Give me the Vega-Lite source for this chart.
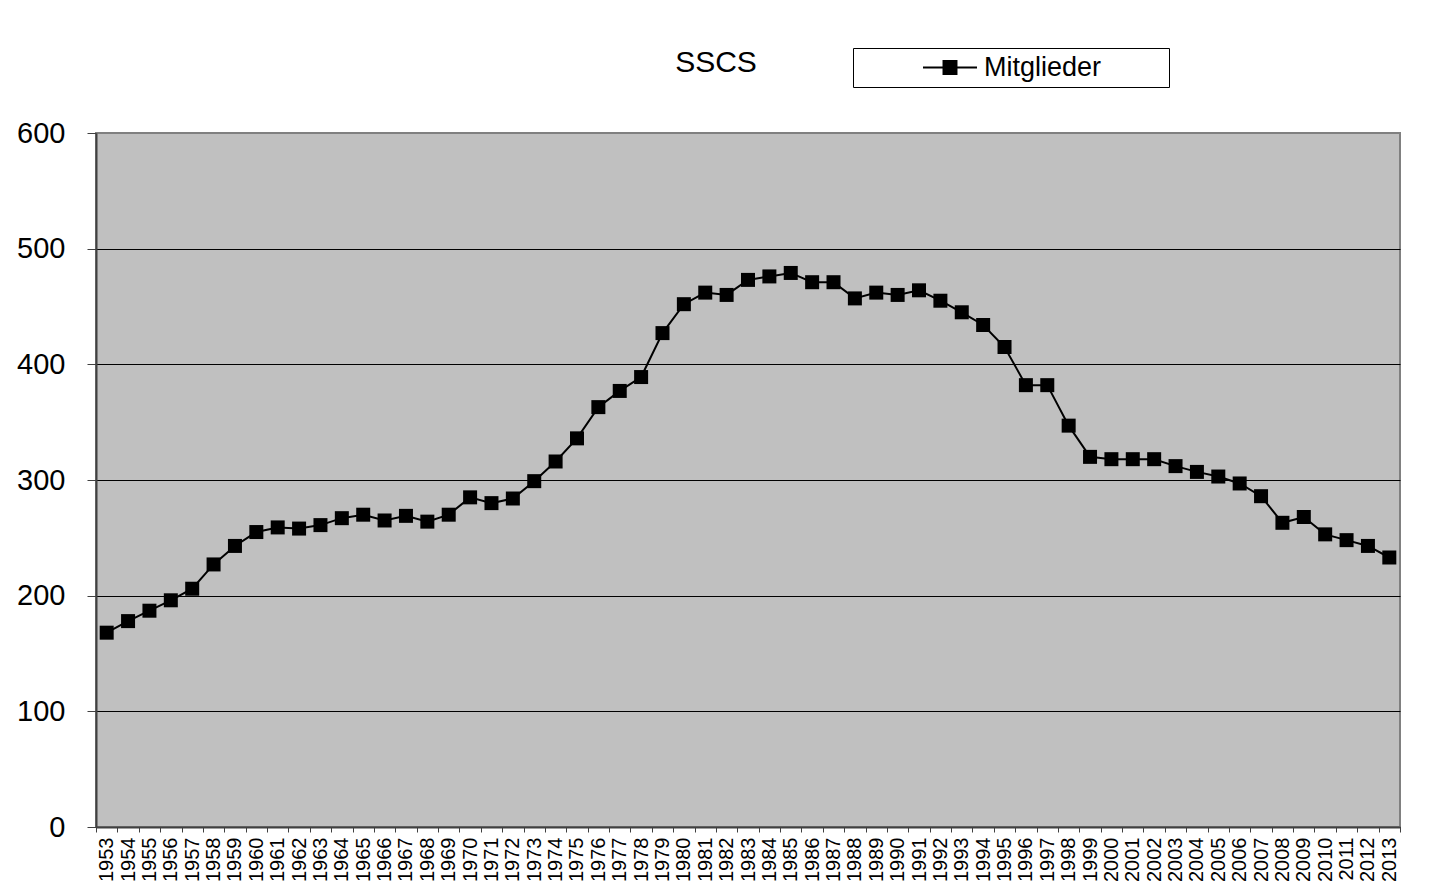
{
  "$schema": "https://vega.github.io/schema/vega-lite/v6.json",
  "autosize": "none",
  "width": 1304,
  "height": 694,
  "padding": {"left": 96, "top": 133, "right": 40, "bottom": 67},
  "background": "white",
  "title": {
    "text": "SSCS",
    "font": "Liberation Sans",
    "fontSize": 30,
    "fontWeight": "normal",
    "color": "black",
    "anchor": "middle",
    "frame": "group",
    "baseline": "alphabetic",
    "offset": -54,
    "dx": -32
  },
  "config": {
    "font": "Liberation Sans",
    "view": {"fill": "#C0C0C0", "stroke": "#808080", "strokeWidth": 2}
  },
  "data": {
    "values": [
      {"year": "1953", "value": 168, "series": "Mitglieder"},
      {"year": "1954", "value": 178, "series": "Mitglieder"},
      {"year": "1955", "value": 187, "series": "Mitglieder"},
      {"year": "1956", "value": 196, "series": "Mitglieder"},
      {"year": "1957", "value": 206, "series": "Mitglieder"},
      {"year": "1958", "value": 227, "series": "Mitglieder"},
      {"year": "1959", "value": 243, "series": "Mitglieder"},
      {"year": "1960", "value": 255, "series": "Mitglieder"},
      {"year": "1961", "value": 259, "series": "Mitglieder"},
      {"year": "1962", "value": 258, "series": "Mitglieder"},
      {"year": "1963", "value": 261, "series": "Mitglieder"},
      {"year": "1964", "value": 267, "series": "Mitglieder"},
      {"year": "1965", "value": 270, "series": "Mitglieder"},
      {"year": "1966", "value": 265, "series": "Mitglieder"},
      {"year": "1967", "value": 269, "series": "Mitglieder"},
      {"year": "1968", "value": 264, "series": "Mitglieder"},
      {"year": "1969", "value": 270, "series": "Mitglieder"},
      {"year": "1970", "value": 285, "series": "Mitglieder"},
      {"year": "1971", "value": 280, "series": "Mitglieder"},
      {"year": "1972", "value": 284, "series": "Mitglieder"},
      {"year": "1973", "value": 299, "series": "Mitglieder"},
      {"year": "1974", "value": 316, "series": "Mitglieder"},
      {"year": "1975", "value": 336, "series": "Mitglieder"},
      {"year": "1976", "value": 363, "series": "Mitglieder"},
      {"year": "1977", "value": 377, "series": "Mitglieder"},
      {"year": "1978", "value": 389, "series": "Mitglieder"},
      {"year": "1979", "value": 427, "series": "Mitglieder"},
      {"year": "1980", "value": 452, "series": "Mitglieder"},
      {"year": "1981", "value": 462, "series": "Mitglieder"},
      {"year": "1982", "value": 460, "series": "Mitglieder"},
      {"year": "1983", "value": 473, "series": "Mitglieder"},
      {"year": "1984", "value": 476, "series": "Mitglieder"},
      {"year": "1985", "value": 479, "series": "Mitglieder"},
      {"year": "1986", "value": 471, "series": "Mitglieder"},
      {"year": "1987", "value": 471, "series": "Mitglieder"},
      {"year": "1988", "value": 457, "series": "Mitglieder"},
      {"year": "1989", "value": 462, "series": "Mitglieder"},
      {"year": "1990", "value": 460, "series": "Mitglieder"},
      {"year": "1991", "value": 464, "series": "Mitglieder"},
      {"year": "1992", "value": 455, "series": "Mitglieder"},
      {"year": "1993", "value": 445, "series": "Mitglieder"},
      {"year": "1994", "value": 434, "series": "Mitglieder"},
      {"year": "1995", "value": 415, "series": "Mitglieder"},
      {"year": "1996", "value": 382, "series": "Mitglieder"},
      {"year": "1997", "value": 382, "series": "Mitglieder"},
      {"year": "1998", "value": 347, "series": "Mitglieder"},
      {"year": "1999", "value": 320, "series": "Mitglieder"},
      {"year": "2000", "value": 318, "series": "Mitglieder"},
      {"year": "2001", "value": 318, "series": "Mitglieder"},
      {"year": "2002", "value": 318, "series": "Mitglieder"},
      {"year": "2003", "value": 312, "series": "Mitglieder"},
      {"year": "2004", "value": 307, "series": "Mitglieder"},
      {"year": "2005", "value": 303, "series": "Mitglieder"},
      {"year": "2006", "value": 297, "series": "Mitglieder"},
      {"year": "2007", "value": 286, "series": "Mitglieder"},
      {"year": "2008", "value": 263, "series": "Mitglieder"},
      {"year": "2009", "value": 268, "series": "Mitglieder"},
      {"year": "2010", "value": 253, "series": "Mitglieder"},
      {"year": "2011", "value": 248, "series": "Mitglieder"},
      {"year": "2012", "value": 243, "series": "Mitglieder"},
      {"year": "2013", "value": 233, "series": "Mitglieder"}
    ]
  },
  "encoding": {
    "x": {
      "field": "year",
      "type": "ordinal",
      "bandPosition": 0.5,
      "scale": {"type": "band", "paddingInner": 0, "paddingOuter": 0},
      "axis": {
        "title": null,
        "labelAngle": 270,
        "labelFont": "Liberation Sans",
        "labelFontSize": 20,
        "labelColor": "black",
        "labelPadding": 5,
        "tickBand": "extent",
        "tickSize": 5,
        "tickColor": "#404040",
        "tickWidth": 1,
        "domainColor": "#404040",
        "domainWidth": 2,
        "grid": false
      }
    },
    "y": {
      "field": "value",
      "type": "quantitative",
      "scale": {"domain": [0, 600], "nice": false, "zero": true},
      "axis": {
        "title": null,
        "values": [0, 100, 200, 300, 400, 500, 600],
        "labelFont": "Liberation Sans",
        "labelFontSize": 29,
        "labelColor": "black",
        "labelPadding": 22,
        "tickSize": 9,
        "tickColor": "#404040",
        "tickWidth": 1,
        "domainColor": "#404040",
        "domainWidth": 2,
        "grid": true,
        "gridColor": {"condition": {"test": "datum.value === 600", "value": "#808080"}, "value": "black"},
        "gridWidth": 1,
        "gridOpacity": 1
      }
    },
    "color": {
      "field": "series",
      "type": "nominal",
      "scale": {"range": ["black"]},
      "legend": {
        "title": "\u00a0",
        "titleOrient": "right",
        "titlePadding": 62,
        "titleFontSize": 27,
        "orient": "none",
        "legendX": 757,
        "legendY": -85,
        "direction": "vertical",
        "strokeColor": "black",
        "fillColor": "white",
        "padding": 6,
        "symbolType": "M-1,0H1M-0.24,-0.24H0.24V0.24H-0.24Z",
        "symbolSize": 2916,
        "symbolFillColor": "black",
        "symbolStrokeColor": "black",
        "symbolStrokeWidth": 2,
        "symbolOpacity": 1,
        "symbolOffset": 63,
        "clipHeight": 27,
        "labelOffset": 6,
        "labelFont": "Liberation Sans",
        "labelFontSize": 27,
        "labelColor": "black",
        "labelBaseline": "middle"
      }
    }
  },
  "layer": [
    {
      "mark": {"type": "line", "strokeWidth": 2},
      "encoding": {
        "y": {"field": "value", "type": "quantitative"}
      }
    },
    {
      "mark": {"type": "point", "shape": "square", "filled": true, "size": 196, "opacity": 1},
      "encoding": {
        "y": {"field": "value", "type": "quantitative"}
      }
    }
  ]
}
